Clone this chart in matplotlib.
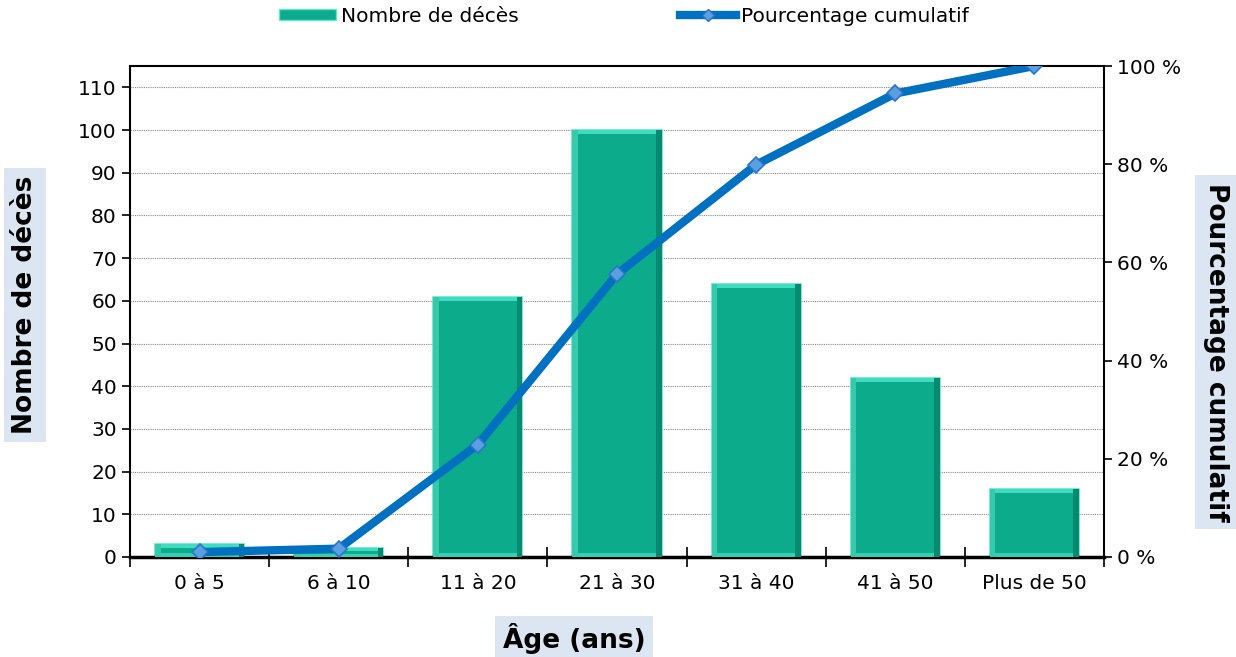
import numpy as np
import matplotlib.pyplot as plt
from matplotlib.lines import Line2D
from matplotlib.patches import Patch

# données
categories = ['0 à 5', '6 à 10', '11 à 20', '21 à 30', '31 à 40', '41 à 50', 'Plus de 50']
deces = [3, 2, 61, 100, 64, 42, 16]
cumul_pct = [1.0, 1.7, 22.9, 57.6, 79.9, 94.4, 100.0]
y_ticks = list(range(0, 111, 10))
pct_ticks = [0, 20, 40, 60, 80, 100]

bar_color = '#0cab8c'
bar_edge = '#63e6cc'
line_color = '#0070c0'
box_color = '#dce6f2'

fig = plt.figure(figsize=(12.36, 6.57), dpi=100)
ax = fig.add_axes([130 / 1236, 1 - 557 / 657, (1104 - 130) / 1236, (557 - 66) / 657])
ax2 = ax.twinx()

x = np.arange(len(categories))
w = 0.64
ax.bar(x, deces, width=w, color=bar_color, edgecolor=bar_edge, linewidth=1.2, zorder=2)
# petit effet de relief en haut et en bas des barres
ax.bar(x, [min(1.0, d * 0.3) for d in deces], width=w, bottom=[d - min(1.0, d * 0.3) for d in deces],
       color='#3fdcbf', linewidth=0, zorder=3)
ax.bar(x, [min(1.0, d * 0.3) for d in deces], width=w, color='#35d0b2', linewidth=0, zorder=3)
ax.bar(x - w / 2 + 0.02, deces, width=0.04, color='#36c9ab', linewidth=0, zorder=3)
ax.bar(x + w / 2 - 0.02, deces, width=0.04, color='#078a70', linewidth=0, zorder=3)

ax.set_xlim(-0.5, len(categories) - 0.5)
ax.set_ylim(0, 115)
ax.set_yticks(y_ticks)
ax.set_xticks(x)
ax.set_xticklabels(categories, fontsize=14.5)
ax.tick_params(axis='x', length=0, pad=12)
ax.set_xticks(np.arange(-0.5, len(categories)), minor=True)
ax.tick_params(axis='x', which='minor', length=14, width=1.2, direction='inout')
ax.tick_params(axis='y', labelsize=14.5, length=6, width=1.2)
ax.grid(axis='y', color='#888888', linestyle=(0, (1, 1)), linewidth=0.8, zorder=0)
ax.set_axisbelow(True)
for s in ['top', 'right']:
    ax.spines[s].set_visible(False)
ax.spines['left'].set_linewidth(1.5)
ax.spines['bottom'].set_linewidth(2.5)

ax2.plot(x, cumul_pct, color=line_color, linewidth=6, solid_capstyle='round', zorder=4,
         marker='D', markersize=8, markerfacecolor='#5a9fe0', markeredgecolor='#2b74c8',
         markeredgewidth=1.2)
ax2.set_ylim(0, 100)
ax2.set_yticks(pct_ticks)
ax2.set_yticklabels([f'{p} %' for p in pct_ticks], fontsize=14.5)
ax2.tick_params(axis='y', length=6, width=1.2)
for s in ['top', 'left', 'bottom']:
    ax2.spines[s].set_visible(False)
ax2.spines['right'].set_linewidth(1.5)
ax.plot([0, 1], [1, 1], transform=ax.transAxes, color='black', linewidth=1.5, clip_on=False)
ax.set_zorder(ax2.get_zorder() - 1)
ax.patch.set_visible(True)
ax2.patch.set_visible(False)

# titres des axes avec fond
fig.text(25 / 1236, 1 - 305 / 657, 'Nombre de décès', rotation=90, ha='center', va='center',
         fontsize=19, fontweight='bold',
         bbox=dict(boxstyle='square,pad=0.3', facecolor=box_color, edgecolor='none'))
fig.text(1216 / 1236, 1 - 352 / 657, 'Pourcentage cumulatif', rotation=-90, ha='center', va='center',
         fontsize=19, fontweight='bold',
         bbox=dict(boxstyle='square,pad=0.3', facecolor=box_color, edgecolor='none'))
fig.text(574 / 1236, 1 - 639 / 657, 'Âge (ans)', ha='center', va='center',
         fontsize=19, fontweight='bold',
         bbox=dict(boxstyle='square,pad=0.3', facecolor=box_color, edgecolor='none'))

handles = [Patch(facecolor=bar_color, edgecolor=bar_edge),
           Line2D([0], [0], color=line_color, linewidth=6, marker='D', markersize=6,
                  markerfacecolor='#5a9fe0', markeredgecolor='#2b74c8')]
fig.legend(handles, ['Nombre de décès', 'Pourcentage cumulatif'], loc='center',
           bbox_to_anchor=(624 / 1236, 1 - 16 / 657), ncol=2, frameon=False, fontsize=14.5,
           columnspacing=8.0, handlelength=2.8, handleheight=0.5, handletextpad=0.25)

plt.savefig('out.png', dpi=100)
